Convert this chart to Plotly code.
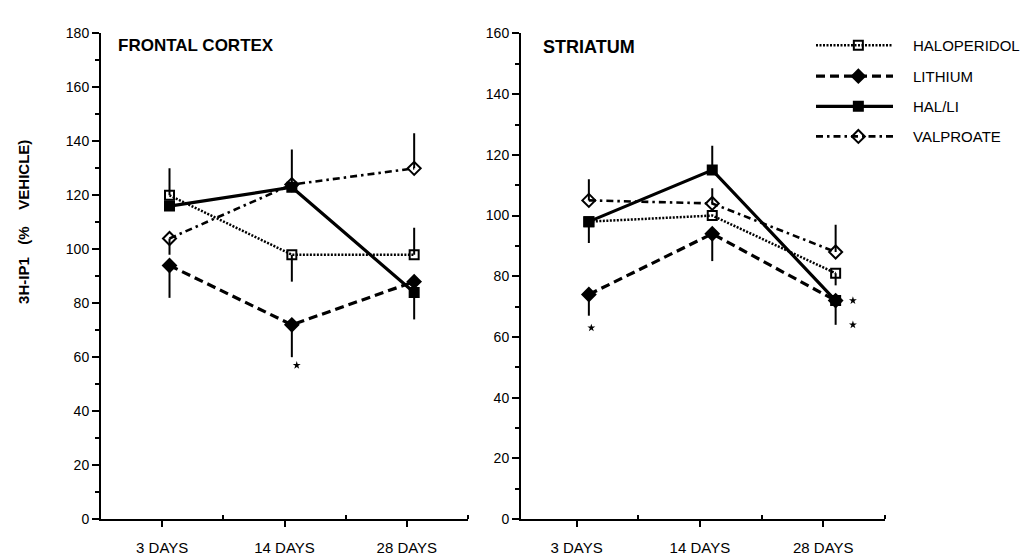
import plotly.graph_objects as go

# ---------------- data ----------------
CATS = ["3 DAYS", "14 DAYS", "28 DAYS"]
SERIES = ["HALOPERIDOL", "LITHIUM", "HAL/LI", "VALPROATE"]

# Frontal cortex (% vehicle)
FC_HAL = [120, 98, 98]
FC_HAL_UP = [10, 0, 10]
FC_HAL_DN = [0, 10, 0]
FC_LI = [94, 72, 88]
FC_LI_UP = [0, 0, 0]
FC_LI_DN = [12, 12, 0]
FC_HALLI = [116, 123, 84]
FC_HALLI_UP = [0, 14, 0]
FC_HALLI_DN = [0, 0, 10]
FC_VAL = [104, 124, 130]
FC_VAL_UP = [0, 0, 13]
FC_VAL_DN = [6, 0, 0]

# Striatum (% vehicle)
ST_HAL = [98, 100, 81]
ST_HAL_UP = [0, 0, 0]
ST_HAL_DN = [0, 0, 4]
ST_LI = [74, 94, 72]
ST_LI_UP = [0, 0, 0]
ST_LI_DN = [7, 9, 0]
ST_HALLI = [98, 115, 72]
ST_HALLI_UP = [0, 8, 0]
ST_HALLI_DN = [7, 0, 8]
ST_VAL = [105, 104, 88]
ST_VAL_UP = [7, 5, 9]
ST_VAL_DN = [0, 0, 0]

# significance markers (category index, value)
FC_STAR_CAT = [1]
FC_STAR_VAL = [57]
ST_STAR_CAT = [0, 2, 2]
ST_STAR_VAL = [63, 72, 64]

# ---------------- styles ----------------
FONT = "Liberation Sans, Arial, Helvetica, sans-serif"
STYLE = {
    "HALOPERIDOL": dict(dash="2px,1.5px", width=2.5, symbol="square-open", size=9),
    "LITHIUM": dict(dash="9px,5px", width=3.2, symbol="diamond", size=10),
    "HAL/LI": dict(dash="solid", width=3.2, symbol="square", size=9),
    "VALPROATE": dict(dash="7px,4px,2.5px,4px", width=2.6, symbol="diamond-open", size=10),
}
FC_OFF = 0.06
ST_OFF = 0.1
STAR_OFF = 0.14

fig = go.Figure()


def add_series(name, vals, up, dn, xa, ya, off):
    s = STYLE[name]
    xs = [i + off for i in range(len(vals))]
    fig.add_trace(go.Scatter(
        x=xs, y=vals, mode="lines+markers", name=name, showlegend=False,
        xaxis=xa, yaxis=ya, cliponaxis=False,
        line=dict(color="black", width=s["width"], dash=s["dash"]),
        marker=dict(symbol=s["symbol"], size=s["size"], color="black",
                    line=dict(color="black", width=2)),
        error_y=dict(type="data", symmetric=False, array=up, arrayminus=dn,
                     color="black", thickness=2, width=0),
    ))


fc = [(SERIES[0], FC_HAL, FC_HAL_UP, FC_HAL_DN),
      (SERIES[1], FC_LI, FC_LI_UP, FC_LI_DN),
      (SERIES[2], FC_HALLI, FC_HALLI_UP, FC_HALLI_DN),
      (SERIES[3], FC_VAL, FC_VAL_UP, FC_VAL_DN)]
st = [(SERIES[0], ST_HAL, ST_HAL_UP, ST_HAL_DN),
      (SERIES[1], ST_LI, ST_LI_UP, ST_LI_DN),
      (SERIES[2], ST_HALLI, ST_HALLI_UP, ST_HALLI_DN),
      (SERIES[3], ST_VAL, ST_VAL_UP, ST_VAL_DN)]
for n, v, u, d in fc:
    add_series(n, v, u, d, "x", "y", FC_OFF)
for n, v, u, d in st:
    add_series(n, v, u, d, "x2", "y2", ST_OFF)

# stars
fig.add_trace(go.Scatter(
    x=[c + FC_OFF + 0.04 for c in FC_STAR_CAT], y=FC_STAR_VAL, mode="markers",
    xaxis="x", yaxis="y", showlegend=False,
    marker=dict(symbol="star", size=6, color="black")))
fig.add_trace(go.Scatter(
    x=[c + ST_OFF + (STAR_OFF if c == 2 else 0.02) for c in ST_STAR_CAT],
    y=ST_STAR_VAL, mode="markers", xaxis="x2", yaxis="y2", showlegend=False,
    marker=dict(symbol="star", size=6, color="black")))

# manual legend
LEG_ROWS = [30, 62, 93, 124]
for name, row in zip(SERIES, LEG_ROWS):
    s = STYLE[name]
    fig.add_trace(go.Scatter(
        x=[0, 1], y=[row, row], mode="lines", xaxis="x3", yaxis="y3", showlegend=False,
        line=dict(color="black", width=s["width"], dash=s["dash"])))
    fig.add_trace(go.Scatter(
        x=[0.55], y=[row], mode="markers", xaxis="x3", yaxis="y3", showlegend=False,
        marker=dict(symbol=s["symbol"], size=s["size"], color="black",
                    line=dict(color="black", width=2))))
    fig.add_annotation(x=903 / 1028, y=1 - row / 554, xref="paper", yref="paper",
                       text=name, showarrow=False, xanchor="left", yanchor="middle",
                       font=dict(family=FONT, size=15, color="black"))

W, H = 1028, 554
ydom = [1 - 518 / H, 1 - 18 / H]
common_y = dict(showgrid=False, zeroline=False, showline=True, linecolor="black",
                linewidth=2, ticks="outside", ticklen=7, tickwidth=2, tickcolor="black",
                tickfont=dict(family=FONT, size=14, color="black"), dtick=20,
                minor=dict(dtick=10, ticks="outside", ticklen=4, tickwidth=2,
                           tickcolor="black"))
common_x = dict(showgrid=False, zeroline=False, showline=True, linecolor="black",
                linewidth=2, ticks="outside", ticklen=6, tickwidth=2, tickcolor="black",
                tickmode="array", tickvals=[0, 1, 2], ticktext=CATS, ticklabelstandoff=8,
                tickfont=dict(family=FONT, size=15, color="black"),
                minor=dict(tickmode="array", tickvals=[0.5, 1.5, 2.5], ticks="inside",
                           ticklen=4, tickwidth=2, tickcolor="black"))

fig.update_layout(
    width=W, height=H, margin=dict(l=0, r=0, t=0, b=0),
    paper_bgcolor="white", plot_bgcolor="rgba(0,0,0,0)",
    font=dict(family=FONT, color="black"),
    xaxis=dict(domain=[93 / W, 460 / W], range=[-0.5, 2.5], anchor="y", **common_x),
    yaxis=dict(domain=ydom, range=[0, 180], anchor="x", **common_y),
    xaxis2=dict(domain=[513 / W, 877 / W], range=[-0.45, 2.5], anchor="y2", **common_x),
    yaxis2=dict(domain=ydom, range=[0, 160], anchor="x2", **common_y),
    xaxis3=dict(domain=[808 / W, 885 / W], range=[0, 1], visible=False, anchor="y3"),
    yaxis3=dict(domain=[0, 1], range=[H, 0], visible=False, anchor="x3"),
)

fig.add_annotation(x=108 / W, y=1 - 30 / H, xref="paper", yref="paper",
                   text="<b>FRONTAL CORTEX</b>", showarrow=False, xanchor="left",
                   yanchor="middle", font=dict(family=FONT, size=17, color="black"))
fig.add_annotation(x=533 / W, y=1 - 32 / H, xref="paper", yref="paper",
                   text="<b>STRIATUM</b>", showarrow=False, xanchor="left",
                   yanchor="middle", font=dict(family=FONT, size=18, color="black"))
fig.add_annotation(x=16 / W, y=1 - 212 / H, xref="paper", yref="paper",
                   text="<b>3H-IP1\u00a0\u00a0\u00a0(%\u00a0\u00a0\u00a0\u00a0VEHICLE)</b>",
                   showarrow=False, textangle=-90, xanchor="center", yanchor="middle",
                   font=dict(family=FONT, size=15, color="black"))

fig.write_html("out.html")
